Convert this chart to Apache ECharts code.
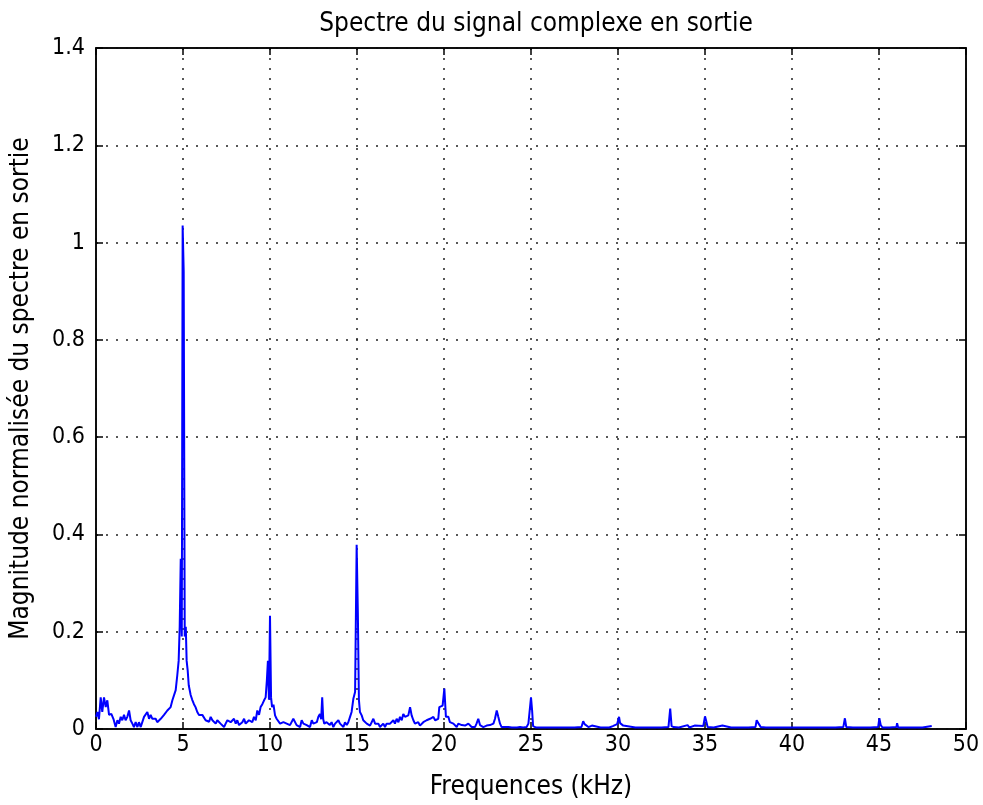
<!DOCTYPE html>
<html>
<head>
<meta charset="utf-8">
<title>Spectre du signal complexe en sortie</title>
<script src="https://cdn.jsdelivr.net/npm/echarts@6/dist/echarts.min.js"></script>
<style>
  html, body { margin: 0; padding: 0; background: #fff; }
  #main { width: 983px; height: 805px; }
</style>
</head>
<body>
<div id="main"></div>
<script>
// frequences (kHz) et magnitudes
var freq = [
  0.0, 0.08, 0.17, 0.27, 0.36, 0.46, 0.56, 0.65, 0.75, 0.88,
  1.0, 1.13, 1.23, 1.32, 1.42, 1.51, 1.61, 1.70, 1.80, 1.90,
  1.99, 2.09, 2.18, 2.28, 2.38, 2.47, 2.57, 2.66, 2.76, 2.85,
  2.95, 3.05, 3.14, 3.24, 3.33, 3.43, 3.52, 3.62, 3.72, 3.81,
  3.91, 4.0, 4.10, 4.20, 4.29, 4.39, 4.48, 4.58, 4.67, 4.75,
  4.81, 4.87, 4.93, 4.98, 5.04, 5.10, 5.16, 5.21, 5.27, 5.33,
  5.44, 5.53, 5.63, 5.72, 5.82, 5.92, 6.02, 6.11, 6.21, 6.30,
  6.40, 6.50, 6.59, 6.69, 6.78, 6.88, 6.97, 7.07, 7.16, 7.26,
  7.36, 7.45, 7.55, 7.64, 7.74, 7.84, 7.93, 8.03, 8.12, 8.22,
  8.31, 8.41, 8.51, 8.60, 8.70, 8.79, 8.89, 8.98, 9.08, 9.18,
  9.27, 9.37, 9.46, 9.56, 9.66, 9.75, 9.82, 9.88, 9.94, 10.0,
  10.06, 10.12, 10.2, 10.29, 10.38, 10.48, 10.58, 10.67, 10.77, 10.86,
  10.96, 11.05, 11.15, 11.25, 11.34, 11.44, 11.53, 11.63, 11.73, 11.82,
  11.92, 12.01, 12.11, 12.2, 12.3, 12.4, 12.49, 12.59, 12.69, 12.78,
  12.87, 12.94, 13.0, 13.06, 13.12, 13.25, 13.35, 13.44, 13.54, 13.64,
  13.74, 13.83, 13.93, 14.02, 14.12, 14.22, 14.31, 14.41, 14.5, 14.6,
  14.69, 14.79, 14.89, 14.98, 15.05, 15.11, 15.17, 15.27, 15.36, 15.46,
  15.56, 15.65, 15.75, 15.85, 15.94, 16.04, 16.13, 16.23, 16.32, 16.42,
  16.51, 16.61, 16.7, 16.8, 16.9, 16.99, 17.09, 17.18, 17.28, 17.38,
  17.47, 17.57, 17.66, 17.76, 17.86, 17.95, 18.05, 18.14, 18.24, 18.33,
  18.43, 18.52, 18.62, 18.72, 18.81, 18.91, 19.0, 19.1, 19.2, 19.29,
  19.39, 19.49, 19.58, 19.67, 19.73, 19.81, 19.92, 20.02, 20.11, 20.18,
  20.25, 20.34, 20.44, 20.54, 20.63, 20.73, 20.82, 20.92, 21.02, 21.11,
  21.21, 21.3, 21.4, 21.49, 21.59, 21.68, 21.78, 21.87, 21.97, 22.07,
  22.17, 22.26, 22.36, 22.45, 22.55, 22.64, 22.74, 22.84, 22.93, 23.03,
  23.12, 23.22, 23.31, 23.41, 23.5, 23.6, 23.7, 23.8, 23.9, 24.0,
  24.2, 24.37, 24.55, 24.75, 24.85, 24.92, 25.0, 25.06, 25.12, 25.3,
  25.5, 26.0, 26.5, 27.0, 27.5, 27.9, 28.0, 28.08, 28.16, 28.3,
  28.5, 28.6, 29.0, 29.5, 29.7, 29.8, 29.95, 30.06, 30.12, 30.3,
  30.4, 31.0, 31.5, 32.0, 32.5, 32.9, 33.0, 33.08, 33.2, 33.5,
  34.0, 34.1, 34.4, 34.5, 34.9, 35.0, 35.06, 35.15, 35.5, 36.0,
  36.1, 36.5, 37.0, 37.5, 37.9, 37.97, 38.1, 38.2, 38.5, 39.0,
  39.5, 40.0, 40.5, 41.0, 41.5, 42.0, 42.5, 42.95, 43.04, 43.12,
  43.5, 44.0, 44.5, 44.95, 45.02, 45.1, 45.2, 45.6, 46.0, 46.04,
  46.1, 46.5, 47.0, 47.5, 48.03
];
var mag = [
  0.025, 0.035, 0.02, 0.065, 0.035, 0.065, 0.045, 0.059, 0.029, 0.031,
  0.021, 0.004, 0.018, 0.011, 0.025, 0.018, 0.029, 0.018, 0.025, 0.038,
  0.018, 0.011, 0.004, 0.014, 0.004, 0.014, 0.004, 0.008, 0.025, 0.029,
  0.035, 0.021, 0.029, 0.021, 0.018, 0.021, 0.014, 0.018, 0.021, 0.025,
  0.029, 0.031, 0.038, 0.035, 0.045, 0.059, 0.062, 0.08, 0.11, 0.14,
  0.21, 0.35, 0.19, 1.035, 0.94, 0.19, 0.21, 0.14, 0.12, 0.09,
  0.07, 0.06, 0.051, 0.045, 0.035, 0.029, 0.025, 0.029, 0.025, 0.018,
  0.022, 0.015, 0.025, 0.018, 0.015, 0.011, 0.018, 0.014, 0.011, 0.008,
  0.004, 0.011, 0.018, 0.021, 0.014, 0.018, 0.021, 0.011, 0.018, 0.008,
  0.006, 0.014, 0.021, 0.011, 0.014, 0.018, 0.021, 0.014, 0.025, 0.018,
  0.038, 0.029, 0.045, 0.051, 0.059, 0.065, 0.1, 0.14, 0.06, 0.233,
  0.065, 0.045, 0.05, 0.028, 0.021, 0.018, 0.011, 0.014, 0.014, 0.018,
  0.011, 0.014, 0.008, 0.011, 0.021, 0.018, 0.008, 0.011, 0.004, 0.018,
  0.011, 0.014, 0.008, 0.011, 0.004, 0.018, 0.011, 0.008, 0.014, 0.025,
  0.031, 0.02, 0.065, 0.02, 0.011, 0.014, 0.018, 0.008, 0.014, 0.004,
  0.011, 0.008, 0.018, 0.011, 0.008, 0.004, 0.014, 0.008, 0.014, 0.025,
  0.035, 0.062, 0.076, 0.379, 0.236, 0.06, 0.035, 0.028, 0.018, 0.021,
  0.011, 0.014, 0.007, 0.011, 0.021, 0.011, 0.007, 0.011, 0.004, 0.008,
  0.011, 0.004, 0.011, 0.014, 0.011, 0.008, 0.018, 0.011, 0.021, 0.014,
  0.025, 0.018, 0.031, 0.025, 0.021, 0.028, 0.045, 0.028, 0.018, 0.011,
  0.011, 0.014, 0.007, 0.011, 0.014, 0.011, 0.018, 0.014, 0.021, 0.018,
  0.025, 0.018, 0.014, 0.021, 0.045, 0.045, 0.048, 0.083, 0.025, 0.028,
  0.025, 0.014, 0.018, 0.011, 0.008, 0.004, 0.011, 0.014, 0.008, 0.011,
  0.007, 0.007, 0.011, 0.011, 0.004, 0.007, 0.004, 0.011, 0.021, 0.008,
  0.011, 0.004, 0.007, 0.007, 0.004, 0.008, 0.007, 0.011, 0.021, 0.038,
  0.025, 0.011, 0.004, 0.007, 0.004, 0.004, 0.004, 0.008, 0.003, 0.004,
  0.003, 0.004, 0.003, 0.004, 0.011, 0.012, 0.065, 0.04, 0.006, 0.003,
  0.003, 0.003, 0.003, 0.003, 0.003, 0.004, 0.016, 0.01, 0.008, 0.004,
  0.007, 0.003, 0.003, 0.003, 0.006, 0.003, 0.01, 0.025, 0.012, 0.007,
  0.003, 0.003, 0.003, 0.003, 0.003, 0.004, 0.042, 0.006, 0.004, 0.003,
  0.008, 0.003, 0.007, 0.003, 0.006, 0.026, 0.018, 0.004, 0.003, 0.007,
  0.003, 0.003, 0.003, 0.003, 0.004, 0.018, 0.01, 0.004, 0.003, 0.003,
  0.003, 0.003, 0.003, 0.003, 0.003, 0.003, 0.003, 0.004, 0.022, 0.004,
  0.003, 0.003, 0.003, 0.004, 0.022, 0.008, 0.003, 0.003, 0.004, 0.012,
  0.003, 0.003, 0.003, 0.003, 0.006
];
var xTicks = [0, 50, 5];   // min, max, pas
var yTicks = [0, 1.4, 0.2];

var points = [];
for (var i = 0; i < freq.length; i++) {
  points.push([freq[i], mag[i]]);
}

var fontName = '"Liberation Sans Narrow", "DejaVu Sans Condensed", "Liberation Sans", sans-serif';

var myChart = echarts.init(document.getElementById('main'));

var option = {
  animation: false,
  backgroundColor: '#fff',
  title: {
    text: 'Spectre du signal complexe en sortie',
    left: 531,
    top: 6,
    textAlign: 'center',
    textStyle: { fontFamily: fontName, fontSize: 26, fontWeight: 'normal', color: '#000' }
  },
  grid: {
    left: 96, right: 17, top: 48, bottom: 73,
    show: true, borderColor: '#000', borderWidth: 1.5
  },
  xAxis: [
    {
      type: 'value',
      min: xTicks[0], max: xTicks[1], interval: xTicks[2],
      name: 'Frequences (kHz)',
      nameLocation: 'middle',
      nameGap: 45,
      nameTextStyle: { fontFamily: fontName, fontSize: 26, color: '#000' },
      axisLine: { show: true, onZero: false, lineStyle: { color: '#000', width: 1.5 } },
      axisTick: { show: true, inside: true, length: 7, lineStyle: { color: '#000', width: 1.5 } },
      axisLabel: { fontFamily: fontName, fontSize: 23, color: '#000', margin: 5 },
      splitLine: { show: true, lineStyle: { color: '#222', width: 1.5, type: [2, 8] } }
    },
    {
      type: 'value', position: 'top',
      min: xTicks[0], max: xTicks[1], interval: xTicks[2],
      axisLine: { show: true, onZero: false, lineStyle: { color: '#000', width: 1.5 } },
      axisTick: { show: true, inside: true, length: 7, lineStyle: { color: '#000', width: 1.5 } },
      axisLabel: { show: false },
      splitLine: { show: false }
    }
  ],
  yAxis: [
    {
      type: 'value',
      min: yTicks[0], max: yTicks[1], interval: yTicks[2],
      name: 'Magnitude normalisée du spectre en sortie',
      nameLocation: 'middle',
      nameGap: 62,
      nameTextStyle: { fontFamily: fontName, fontSize: 26, color: '#000' },
      axisLine: { show: true, onZero: false, lineStyle: { color: '#000', width: 1.5 } },
      axisTick: { show: true, inside: true, length: 7, lineStyle: { color: '#000', width: 1.5 } },
      axisLabel: { fontFamily: fontName, fontSize: 23, color: '#000', margin: 11 },
      splitLine: { show: true, lineStyle: { color: '#222', width: 1.5, type: [2, 8] } }
    },
    {
      type: 'value', position: 'right',
      min: yTicks[0], max: yTicks[1], interval: yTicks[2],
      axisLine: { show: true, onZero: false, lineStyle: { color: '#000', width: 1.5 } },
      axisTick: { show: true, inside: true, length: 7, lineStyle: { color: '#000', width: 1.5 } },
      axisLabel: { show: false },
      splitLine: { show: false }
    }
  ],
  series: [
    {
      type: 'line',
      data: points,
      showSymbol: false,
      lineStyle: { color: '#0000ff', width: 2 },
      itemStyle: { color: '#0000ff' }
    }
  ]
};

myChart.setOption(option);
</script>
</body>
</html>
